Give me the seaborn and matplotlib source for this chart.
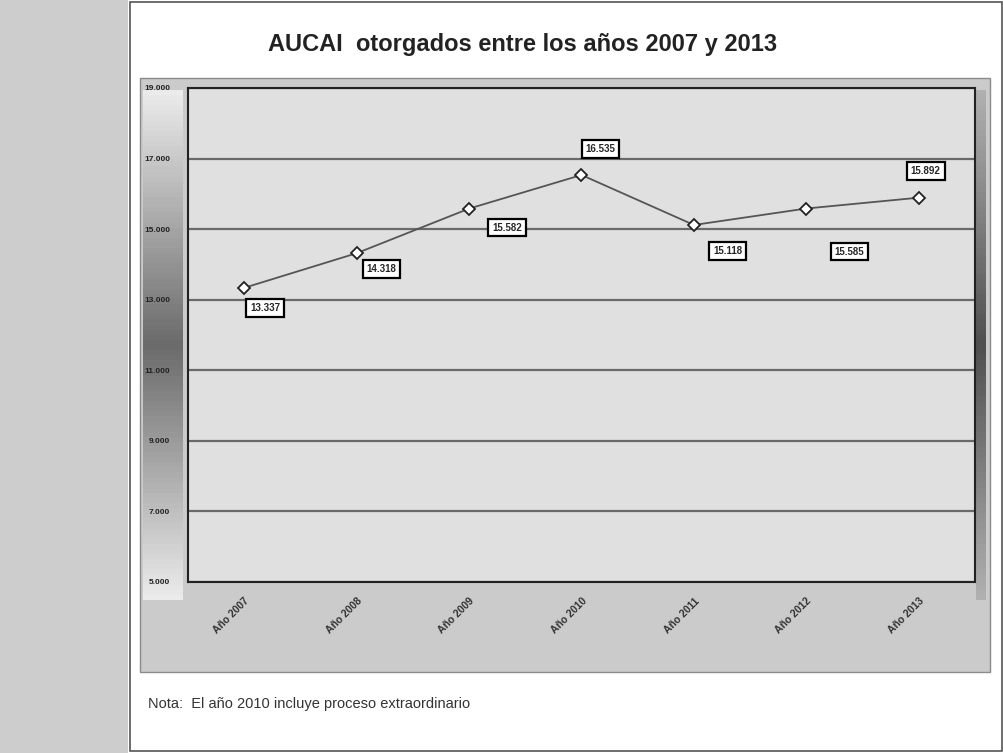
import numpy as np
import pandas as pd
import seaborn as sns
import matplotlib.pyplot as plt
from matplotlib.patches import Rectangle

# data
years = ["Año 2007", "Año 2008", "Año 2009", "Año 2010", "Año 2011", "Año 2012", "Año 2013"]
aucai = [13337, 14318, 15582, 16535, 15118, 15585, 15892]
y_ticks = [5000, 7000, 9000, 11000, 13000, 15000, 17000, 19000]

df = pd.DataFrame({"anio": years, "aucai": aucai})

sns.set_style("white")
plt.rcParams["font.family"] = ["Liberation Sans", "DejaVu Sans"]

fig = plt.figure(figsize=(10.04, 7.53), dpi=100)
fig.patch.set_facecolor("white")

# left scanned margin strip and page border
fig.patches.append(Rectangle((0, 0), 128 / 1004, 1, transform=fig.transFigure,
                             facecolor="#cdcdcd", edgecolor="none", zorder=0))
fig.patches.append(Rectangle((130 / 1004, 0.002), 872 / 1004, 0.995, transform=fig.transFigure,
                             facecolor="none", edgecolor="#555555", lw=1.2, zorder=1))

# outer chart panel
fig.patches.append(Rectangle((140 / 1004, 1 - 672 / 753), 850 / 1004, 594 / 753,
                             transform=fig.transFigure, facecolor="#cbcbcb",
                             edgecolor="#8a8a8a", lw=1, zorder=1))

# gradient bands on left and right of the plot
grad = fig.add_axes([143 / 1004, 1 - 600 / 753, 40 / 1004, 510 / 753], zorder=2)
g = np.concatenate([np.linspace(0.92, 0.42, 50), np.linspace(0.42, 0.92, 50)])
grad.imshow(g[:, None], aspect="auto", cmap="gray", vmin=0, vmax=1)
grad.axis("off")
gr = fig.add_axes([976 / 1004, 1 - 600 / 753, 10 / 1004, 510 / 753], zorder=2)
gr.imshow(g[:, None] * 0.75, aspect="auto", cmap="gray", vmin=0, vmax=1)
gr.axis("off")

ax = fig.add_axes([188 / 1004, 1 - 582 / 753, 787 / 1004, 494 / 753], zorder=3)
ax.set_facecolor("#e0e0e0")

sns.lineplot(data=df, x="anio", y="aucai", ax=ax, color="#555555", lw=1.3,
             marker="D", markersize=6, markerfacecolor="white",
             markeredgecolor="#222222", markeredgewidth=1.3, sort=False)

ax.set_xlim(-0.5, len(years) - 0.5)
ax.set_ylim(5000, 19000)
ax.set_yticks(y_ticks)
ax.set_yticklabels([f"{v:,}".replace(",", ".") for v in y_ticks], fontsize=6,
                   fontweight="bold", color="#222222")
ax.yaxis.grid(True, color="#6a6a6a", lw=1.6)
ax.set_axisbelow(True)
ax.tick_params(axis="y", length=0, pad=13)
ax.tick_params(axis="x", length=0, pad=10)
ax.set_xticks(range(len(years)))
ax.set_xticklabels(years, rotation=45, ha="right", rotation_mode="anchor",
                   fontsize=7.5, fontweight="bold", color="#333333")
ax.set_xlabel("")
ax.set_ylabel("")
for s in ax.spines.values():
    s.set_color("#222222")
    s.set_linewidth(1.5)

# value labels in boxes (offsets in pixels)
offsets = [(21, -20), (25, -16), (38, -19), (19, 26), (34, -26), (43, -43), (7, 27)]
for i, (v, off) in enumerate(zip(aucai, offsets)):
    ax.annotate(f"{v:,}".replace(",", "."), (i, v), xytext=off, textcoords="offset pixels",
                ha="center", va="center", fontsize=7, fontweight="bold",
                bbox=dict(boxstyle="square,pad=0.4", fc="white", ec="black", lw=1.6))

fig.text(523 / 1004, 1 - 45 / 753, "AUCAI  otorgados entre los años 2007 y 2013",
         ha="center", va="center", fontsize=17, fontweight="bold", color="#222222")
fig.text(148 / 1004, 1 - 704 / 753, "Nota:  El año 2010 incluye proceso extraordinario",
         ha="left", va="center", fontsize=10.5, color="#333333")

fig.savefig("out.png", dpi=100)
